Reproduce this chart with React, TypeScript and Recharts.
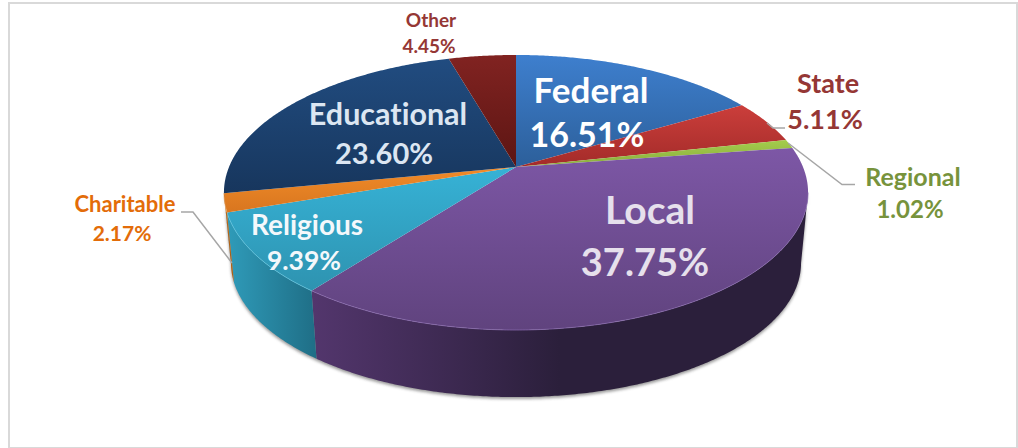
import React from "react";
import { PieChart, Pie } from "recharts";

const categories = ["Federal", "State", "Regional", "Local", "Religious", "Charitable", "Educational", "Other"];
const shares = [16.51, 5.11, 1.02, 37.75, 9.39, 2.17, 23.6, 4.45];
const rows = categories.map((name, i) => ({ name, value: shares[i] }));

const topColors = [
  ["#3e7fce", "#2c5f9a"],
  ["#cb3e3b", "#a32b29"],
  ["#a4cc4c", "#8aad3d"],
  ["#7d57a6", "#60437e"],
  ["#36b2d6", "#2e93b0"],
  ["#f18b29", "#d8761f"],
  ["#214c80", "#17365d"],
  ["#812321", "#5c1513"],
];
const wallColors = [
  ["#000", "#000"],
  ["#000", "#000"],
  ["#000", "#000"],
  ["#53366d", "#2b1f3b"],
  ["#2f9bb9", "#1f6e86"],
  ["#c2701c", "#a85f16"],
  ["#000", "#000"],
  ["#000", "#000"],
];
const rimColors = ["none", "none", "none", "#8a6bb0", "#62c8e3", "#f5a860", "none", "none"];

// label layout: centre of name line, centre of value line, sizes, colour
const labelLayout = [
  { nx: 591, ny: 89, vx: 587, vy: 133, size: 35, vsize: 34, fill: "#ffffff" },
  { nx: 828, ny: 82, vx: 825, vy: 118, size: 27, vsize: 27, fill: "#953735" },
  { nx: 913, ny: 176, vx: 910, vy: 208, size: 25, vsize: 24, fill: "#77933c" },
  { nx: 650, ny: 209, vx: 645, vy: 261, size: 39, vsize: 38, fill: "#e6e0ec" },
  { nx: 307, ny: 224, vx: 304, vy: 260, size: 28, vsize: 26.5, fill: "#f4f8fb" },
  { nx: 125, ny: 203, vx: 122, vy: 232, size: 22, vsize: 21, fill: "#e36c09" },
  { nx: 388, ny: 113, vx: 384, vy: 152, size: 30.5, vsize: 29, fill: "#dce6f2" },
  { nx: 431, ny: 19, vx: 429, vy: 45, size: 19, vsize: 19, fill: "#953735" },
];
const leaderLines: Record<number, string> = {
  1: "785,128 773,128 767,123",
  2: "855,184.5 842,184.5 788,143",
  5: "181,212 193,212 232,263",
};

// Perspective of the disc
const CX = 516;
const CY = 167;
const A = 287;
const B = 132.8;
const K = 0.1854;
const SHRINK = 0.976;
const DEPTH = 71;
const rad = Math.PI / 180;

const project = (theta: number, s = 1, d = 0): [number, number] => {
  const u = Math.sin(theta * rad);
  const v = -Math.cos(theta * rad);
  const w = 1 - K * v;
  return [CX + (s * A * u) / w, CY + d + (s * B * v) / w];
};
const arc = (t1: number, t2: number, s = 1, d = 0) => {
  const pts: string[] = [];
  const n = Math.max(2, Math.ceil(Math.abs(t2 - t1) * 2));
  for (let i = 0; i <= n; i++) {
    const p = project(t1 + ((t2 - t1) * i) / n, s, d);
    pts.push(p[0].toFixed(2) + " " + p[1].toFixed(2));
  }
  return pts;
};
const FRONT_A = Math.acos(-K) / rad; // right tangent
const FRONT_B = 360 - FRONT_A; // left tangent

const wallPath = (a: number, b: number) => {
  const top = arc(a, b);
  const bottom = arc(b, a, SHRINK, DEPTH);
  return "M" + top.join("L") + "L" + bottom.join("L") + "Z";
};

const Slice = (props: any) => {
  const { startAngle, endAngle, index } = props;
  const t1 = 90 - startAngle;
  const t2 = 90 - endAngle;
  const topId = "top" + index;
  const wallId = "wall" + index;
  const fa = Math.max(t1, FRONT_A);
  const fb = Math.min(t2, FRONT_B);
  const hasWall = fb > fa;
  const top = "M" + CX + " " + CY + "L" + arc(t1, t2).join("L") + "Z";
  // Religious is lit from its outer (left) side as well, Local fades towards the right.
  return (
    <g>
      <defs>
        <linearGradient id={topId} x1="0" y1="0" x2="0" y2="1">
          <stop offset="0" stopColor={topColors[index][0]} />
          <stop offset="1" stopColor={topColors[index][1]} />
        </linearGradient>
        <linearGradient id={wallId} x1="0" y1="0" x2="1" y2="0">
          <stop offset="0" stopColor={wallColors[index][0]} />
          <stop offset={index === 3 ? 0.5 : 1} stopColor={wallColors[index][1]} />
          <stop offset="1" stopColor={wallColors[index][1]} />
        </linearGradient>
        <filter id={"blur" + index} x="-5%" y="-5%" width="110%" height="115%">
          <feGaussianBlur stdDeviation="1.6" />
        </filter>
      </defs>
      {index === 0 && (
        <path
          d={wallPath(FRONT_A, FRONT_B)}
          fill="#777777"
          opacity={0.75}
          transform="translate(0,2)"
          filter={"url(#blur" + index + ")"}
        />
      )}
      {hasWall && <path d={wallPath(fa, fb)} fill={`url(#${wallId})`} />}
      <path d={top} fill={`url(#${topId})`} />
      {hasWall && (
        <path d={"M" + arc(fa, fb).join("L")} fill="none" stroke={rimColors[index]} strokeWidth={1} opacity={0.7} />
      )}
    </g>
  );
};

const renderLabel = (props: any) => {
  const { index } = props;
  const l = labelLayout[index];
  const font = {
    fontFamily: "Lato, Carlito, sans-serif",
    fontWeight: 700,
    fill: l.fill,
    fontVariantLigatures: "none" as const,
  };
  return (
    <g key={index}>
      {leaderLines[index] && <polyline points={leaderLines[index]} fill="none" stroke="#a6a6a6" strokeWidth={1.5} />}
      <text x={l.nx} y={l.ny} textAnchor="middle" dominantBaseline="central" style={{ ...font, fontSize: l.size }}>
        {categories[index]}
      </text>
      <text x={l.vx} y={l.vy} textAnchor="middle" dominantBaseline="central" style={{ ...font, fontSize: l.vsize }}>
        {shares[index].toFixed(2) + "%"}
      </text>
    </g>
  );
};

export default function App() {
  return (
    <div style={{ position: "absolute", left: 0, top: 0, width: 1018, height: 448, background: "#fff" }}>
      <div
        style={{
          position: "absolute",
          left: 8,
          top: 2,
          width: 1006,
          height: 443,
          border: "2px solid #d9d9d9",
        }}
      />
      <div style={{ position: "absolute", left: 0, top: 0 }}>
        <PieChart width={1018} height={448} margin={{ top: 0, right: 0, bottom: 0, left: 0 }}>
          <Pie
            data={rows}
            dataKey="value"
            nameKey="name"
            cx={CX}
            cy={CY}
            outerRadius={B}
            startAngle={90}
            endAngle={-270}
            stroke="none"
            isAnimationActive={false}
            shape={Slice}
            activeShape={Slice}
            inactiveShape={Slice}
            label={renderLabel}
            labelLine={false}
          />
        </PieChart>
      </div>
    </div>
  );
}
